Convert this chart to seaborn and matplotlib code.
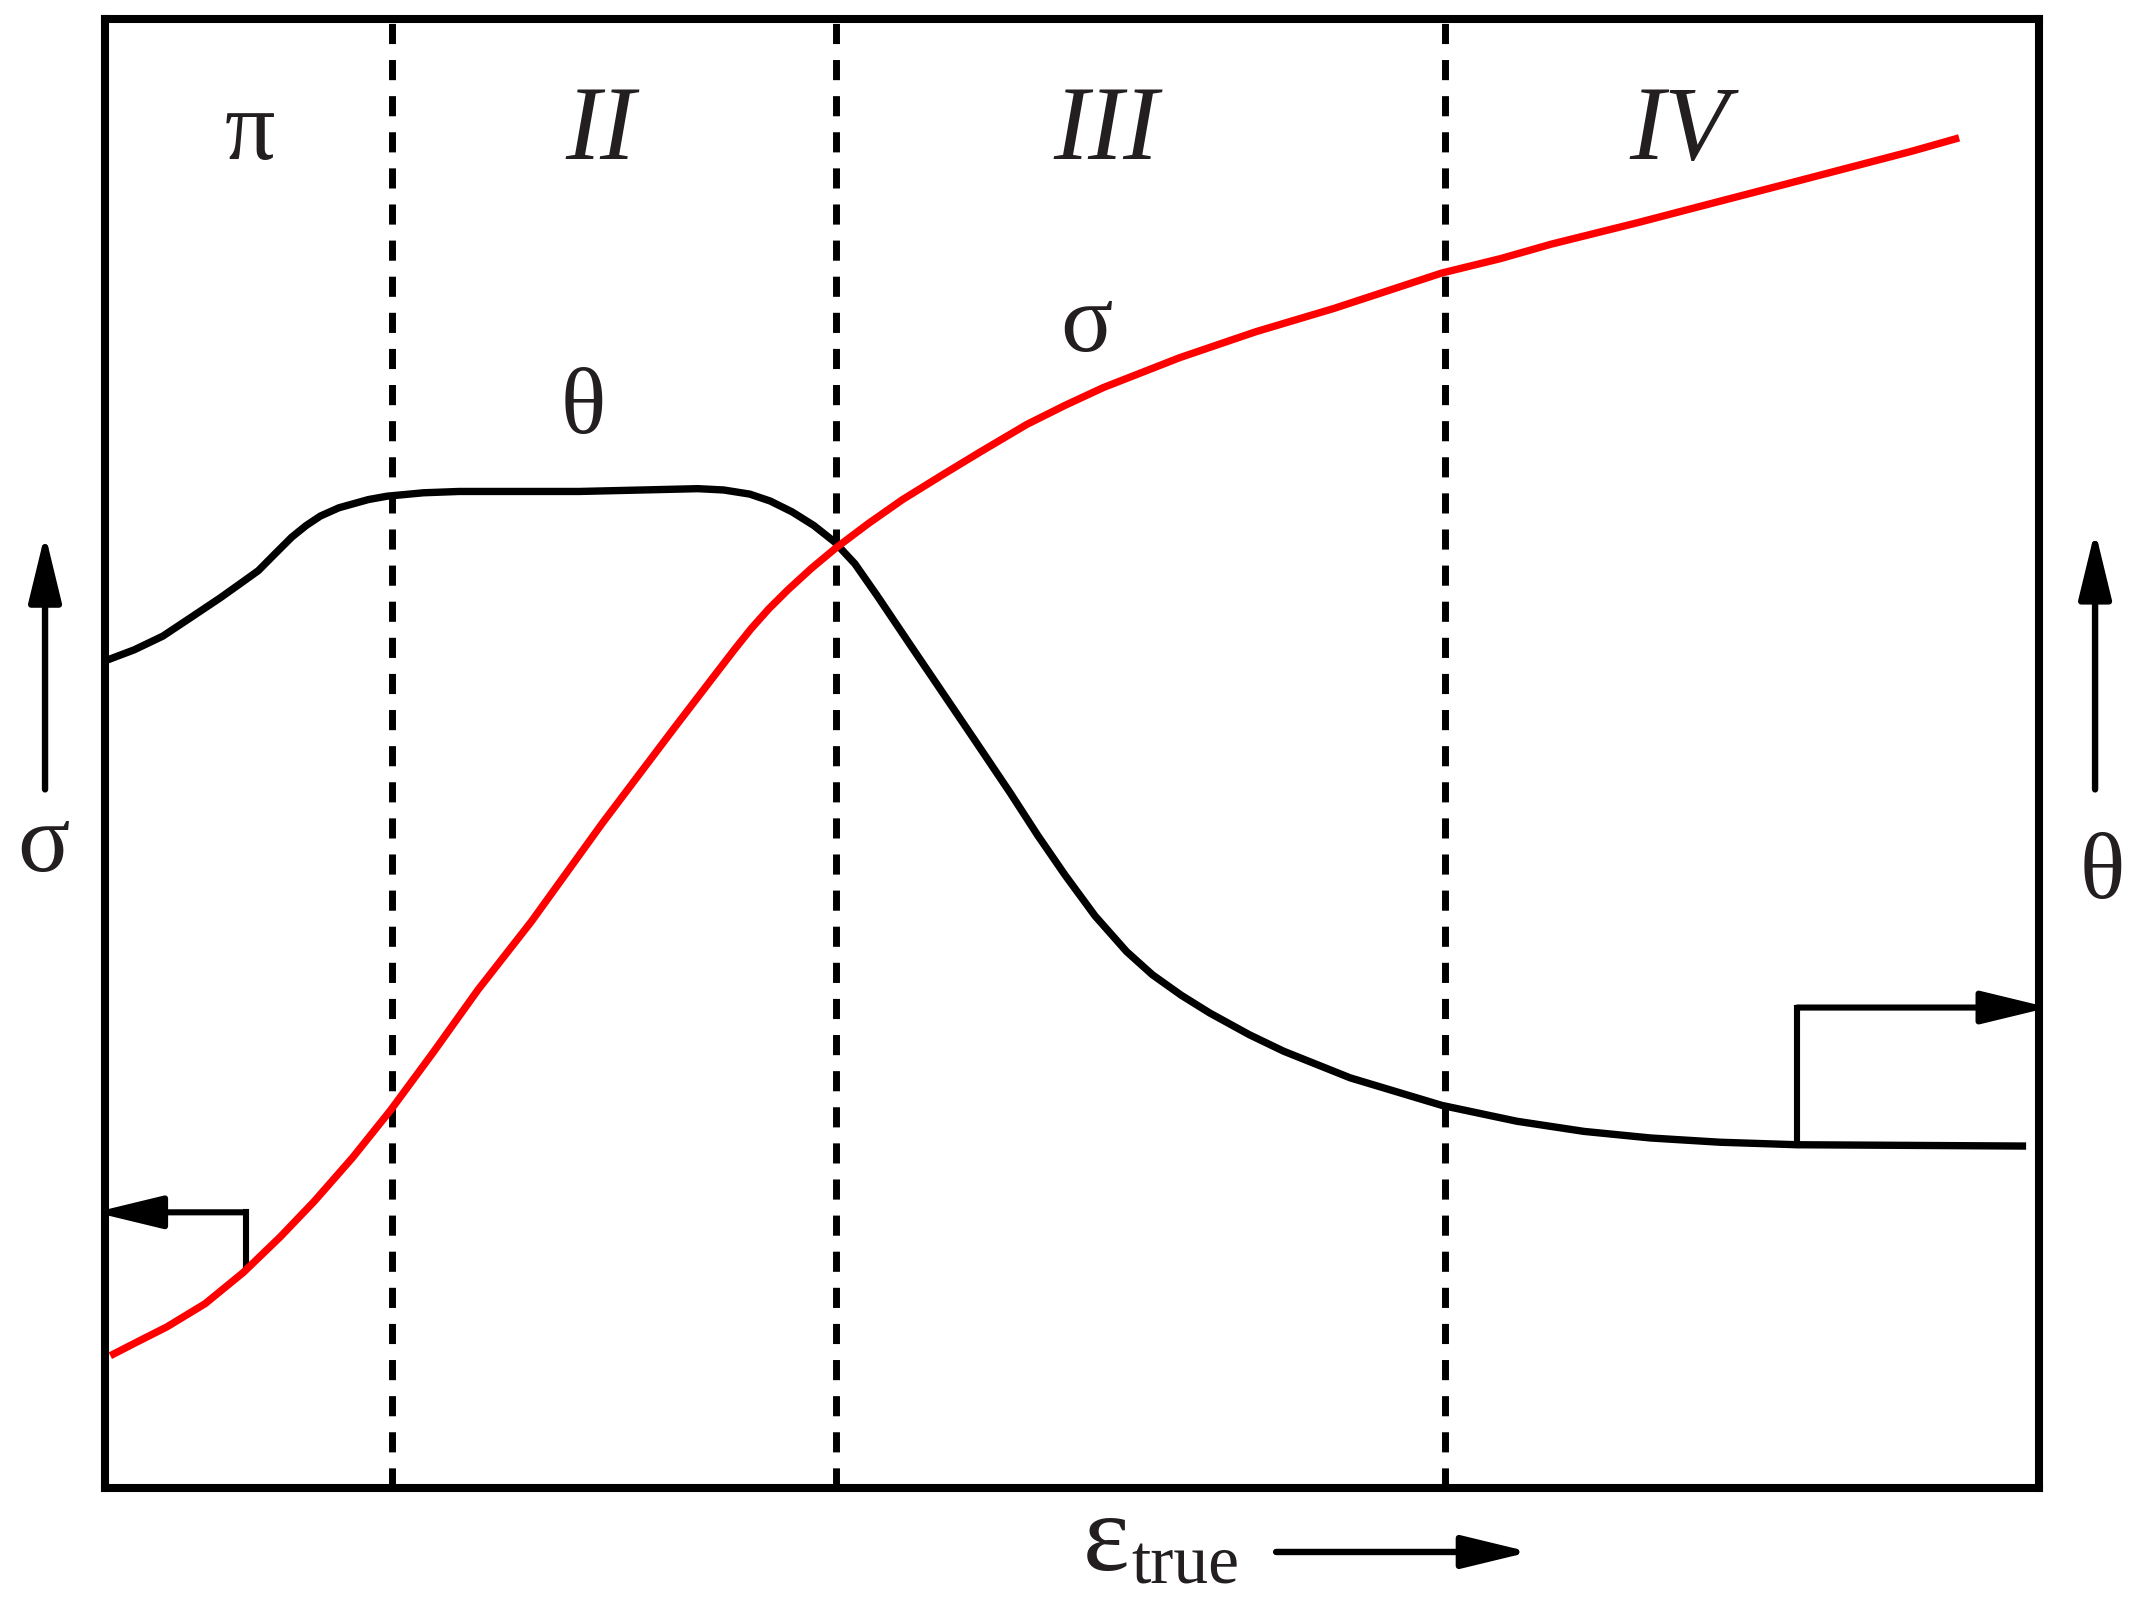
import matplotlib
matplotlib.use("Agg")
import matplotlib.pyplot as plt
from matplotlib.patches import FancyArrowPatch
from matplotlib import font_manager as fm
import seaborn as sns
import pandas as pd

# ---- data (arbitrary units) ----
theta_x = [0.00, 1.48, 2.95, 4.43, 5.90, 6.89, 7.87, 8.71, 9.59, 10.33, 11.07, 12.02,
           13.54, 14.51, 16.37, 18.20, 21.29, 24.39, 27.62, 30.50, 31.83, 33.17, 34.22,
           35.35, 36.47, 37.53, 38.58, 39.71, 41.46, 43.08, 44.84, 46.59, 48.00, 49.40,
           50.95, 52.57, 53.90, 55.38, 56.85, 58.89, 60.65, 64.09, 68.80, 72.66, 76.11,
           79.55, 83.13, 87.10, 98.88]
theta_y = [56.32, 57.06, 57.99, 59.29, 60.59, 61.52, 62.45, 63.57, 64.73, 65.52, 66.17, 66.73,
           67.29, 67.52, 67.75, 67.84, 67.84, 67.84, 67.94, 68.03, 67.94, 67.66, 67.19,
           66.45, 65.52, 64.41, 62.92, 60.78, 57.34, 54.18, 50.74, 47.30, 44.42, 41.73,
           38.94, 36.52, 34.94, 33.55, 32.34, 30.86, 29.74, 27.92, 26.05, 24.97, 24.28,
           23.83, 23.54, 23.37, 23.28]
sigma_x = [0.25, 1.62, 3.16, 5.13, 7.10, 9.00, 10.75, 12.72, 14.69, 16.87, 19.18, 21.93,
           25.58, 29.30, 30.43, 31.48, 32.40, 33.24, 34.15, 35.14, 36.33, 37.60, 39.28,
           41.04, 43.08, 45.05, 47.43, 49.40, 51.37, 53.34, 55.31, 59.24, 63.25, 68.80,
           71.82, 74.42, 78.92, 82.43, 85.95, 89.46, 92.97, 95.43]
sigma_y = [9.01, 9.94, 10.97, 12.55, 14.68, 17.10, 19.52, 22.49, 25.74, 29.65, 33.92, 38.57,
           45.26, 51.77, 53.72, 55.53, 57.11, 58.50, 59.85, 61.15, 62.59, 63.99, 65.66,
           67.29, 68.96, 70.54, 72.40, 73.70, 74.91, 75.93, 76.95, 78.72, 80.30, 82.71,
           83.69, 84.67, 86.15, 87.36, 88.57, 89.78, 90.99, 91.91]
stage_bounds = [14.76, 37.60, 68.94]
stage_labels = ["π", "II", "III", "IV"]
stage_label_x = [7.45, 25.5, 51.5, 81.0]

sns.set_theme(style="white")


def serif_font(style="normal"):
    try:
        path = fm.findfont(fm.FontProperties(family="Liberation Serif", style=style),
                           fallback_to_default=False)
        return dict(fontproperties=fm.FontProperties(fname=path))
    except Exception:
        return dict(family="DejaVu Serif", style=style)


REG = serif_font("normal")
ITA = serif_font("italic")
TXT = "#231f20"

fig = plt.figure(figsize=(21.35, 15.98), dpi=100)
ax = fig.add_axes([0.0494, 0.0688, 0.9056, 0.9193])

df_t = pd.DataFrame({"x": theta_x, "y": theta_y})
df_s = pd.DataFrame({"x": sigma_x, "y": sigma_y})
sns.lineplot(data=df_t, x="x", y="y", ax=ax, color="black", linewidth=5.3, sort=False,
             estimator=None, solid_joinstyle="round", solid_capstyle="butt", zorder=3)
sns.lineplot(data=df_s, x="x", y="y", ax=ax, color="#ff0000", linewidth=5.3, sort=False,
             estimator=None, solid_joinstyle="round", solid_capstyle="butt", zorder=3)

for b in stage_bounds:
    ax.axvline(b, color="black", linewidth=5.0, linestyle=(0, (2.9, 2.3)), zorder=1)

ax.set_xlim(0, 99.54)
ax.set_ylim(0, 100)
ax.set_xticks([])
ax.set_yticks([])
ax.set_xlabel("")
ax.set_ylabel("")
for sp in ax.spines.values():
    sp.set_visible(True)
    sp.set_color("black")
    sp.set_linewidth(5.8)
    sp.set_zorder(5)

for lab, xx in zip(stage_labels, stage_label_x):
    fp = REG if lab == "π" else ITA
    ax.text(xx, 90.5, lab, ha="center", va="baseline", fontsize=72 if lab == "π" else 76,
            color=TXT, **fp)

ax.text(24.6, 71.8, "θ", ha="center", va="baseline", fontsize=68, color=TXT, **REG)
ax.text(50.5, 77.4, "σ", ha="center", va="baseline", fontsize=70, color=TXT, **REG)

# bracket arrows pointing to the relevant axis
bracket_props = dict(arrowstyle="-|>,head_length=1.65,head_width=0.4", color="black",
                     linewidth=4.4, shrinkA=0, shrinkB=0, mutation_scale=25)
ax.plot([7.21, 7.21], [15.06, 18.77], color="black", linewidth=4.4, clip_on=False,
        solid_capstyle="projecting")
ax.annotate("", xy=(-0.55, 18.77), xytext=(7.21, 18.77), arrowprops=bracket_props,
            annotation_clip=False)
ax.plot([87.10, 87.10], [23.37, 32.71], color="black", linewidth=4.4, clip_on=False,
        solid_capstyle="projecting")
ax.annotate("", xy=(100.05, 32.71), xytext=(87.10, 32.71), arrowprops=bracket_props,
            annotation_clip=False)

# outer axis labels with arrows
outer_props = dict(arrowstyle="-|>,head_length=1.65,head_width=0.4", color="black",
                   linewidth=4.6, shrinkA=0, shrinkB=0, mutation_scale=25,
                   transform=fig.transFigure)
fig.add_artist(FancyArrowPatch((0.0211, 0.506), (0.0211, 0.666), **outer_props))
fig.text(0.0205, 0.455, "σ", ha="center", va="baseline", fontsize=70, color=TXT, **REG)
fig.add_artist(FancyArrowPatch((0.9813, 0.506), (0.9813, 0.668), **outer_props))
fig.text(0.9846, 0.438, "θ", ha="center", va="baseline", fontsize=68, color=TXT, **REG)

fig.text(0.518, 0.0175, "ε", ha="center", va="baseline", fontsize=80, color=TXT, **REG)
fig.text(0.530, 0.0091, "true", ha="left", va="baseline", fontsize=50, color=TXT, **REG)
fig.add_artist(FancyArrowPatch((0.5977, 0.0288), (0.7165, 0.0288), **outer_props))

fig.savefig("out.png", dpi=100, facecolor="white")
